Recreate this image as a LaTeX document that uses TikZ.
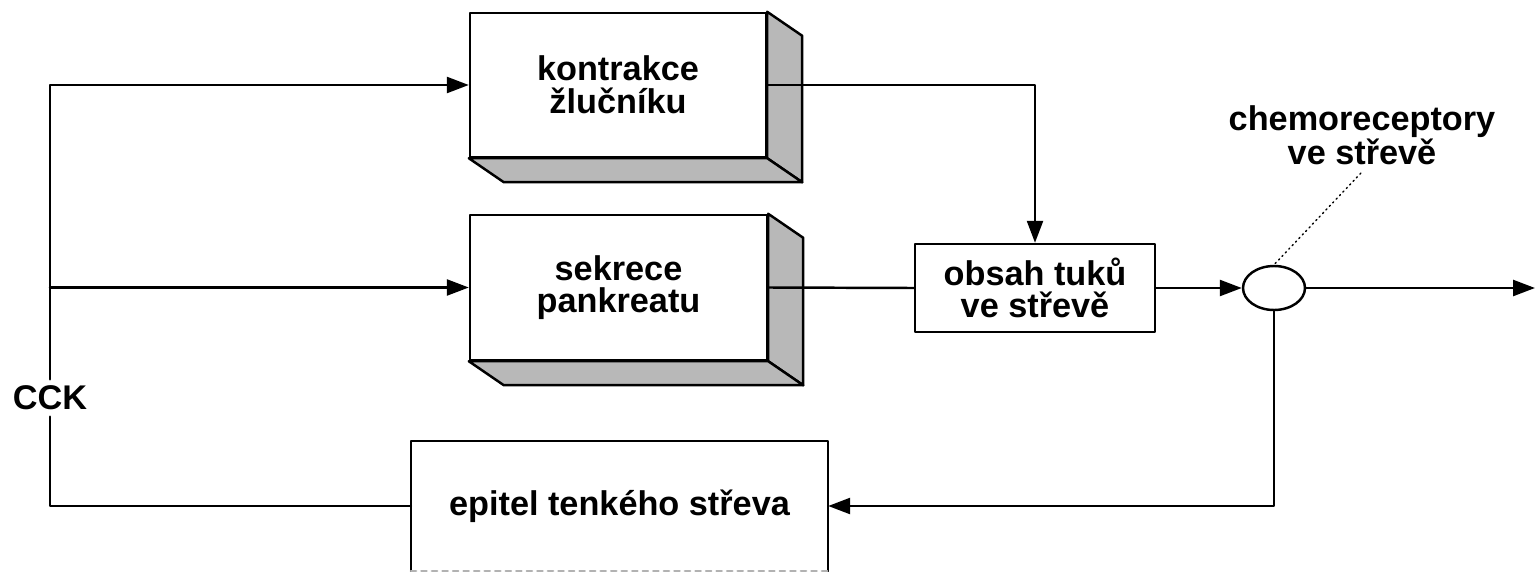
\documentclass[tikz,border=0pt]{standalone}
\usepackage{fontspec}
\setmainfont{Liberation Sans}
\usetikzlibrary{arrows.meta,shapes.geometric}

\begin{document}
\begin{tikzpicture}[line cap=round,line join=round,>={Triangle[length=0.44cm,width=0.32cm]},x=0.02cm,y=-0.02cm,line width=1.4pt,
  font=\fontsize{19.5}{18.5}\selectfont\bfseries,
  blok/.style={draw,align=center,inner sep=0pt},
  stin/.style={draw,fill=black!28}]
\useasboundingbox (0,0) rectangle (1537,571);
% bloky se stinem
\node[blok,minimum width=5.92cm,minimum height=2.88cm] (kontr) at (618,85) {kontrakce\\žlučníku};
\node[blok,minimum width=5.94cm,minimum height=2.9cm] (sekr) at (618.5,287.5) {sekrece\\pankreatu};
\foreach \b in {kontr,sekr} {
  \filldraw[stin] (\b.north east) -- ++(35,24) -- ([shift={(35,24)}]\b.south east) -- (\b.south east) -- cycle;
  \filldraw[stin] (\b.south west) -- ++(35,24) -- ([shift={(35,24)}]\b.south east) -- (\b.south east) -- cycle;
}
\node[blok,minimum width=4.8cm,minimum height=1.76cm] (obsah) at (1035,288) {obsah tuků\\ve střevě};
\node[draw,ellipse,minimum width=1.24cm,minimum height=0.88cm,inner sep=0pt] (cidlo) at (1274,288) {};
\node[align=center] (popis) at (1362,135) {chemoreceptory\\ve střevě};
\node[align=center,minimum width=8.3cm,minimum height=2.56cm,inner sep=0pt] (epitel) at (619.5,506) {epitel tenkého střeva};
\draw (epitel.south west) -- (epitel.north west) -- (epitel.north east) -- (epitel.south east);
\draw[black!30,dashed] (epitel.south west) -- (epitel.south east);
\node[fill=white,inner sep=3pt] (cck) at (50,398) {CCK};
\coordinate (vystup) at (1535,288);
% spoje
\draw[->] (cck.north) |- (kontr.west);
\draw[->] (cck.north |- sekr.west) -- (sekr.west);
\draw (cck.south) |- (epitel.west);
\draw[->] (kontr.east) -| (obsah.north);
\draw (sekr.east) -- (obsah.west);
\draw[->] (obsah.east) -- (cidlo.west);
\draw[->] (cidlo.east) -- (vystup);
\draw[->] (cidlo.south) |- (epitel.east);
\draw[dotted,line width=0.8pt,shorten <=1pt] (cidlo.north) -- (popis.south);
\end{tikzpicture}
\end{document}
